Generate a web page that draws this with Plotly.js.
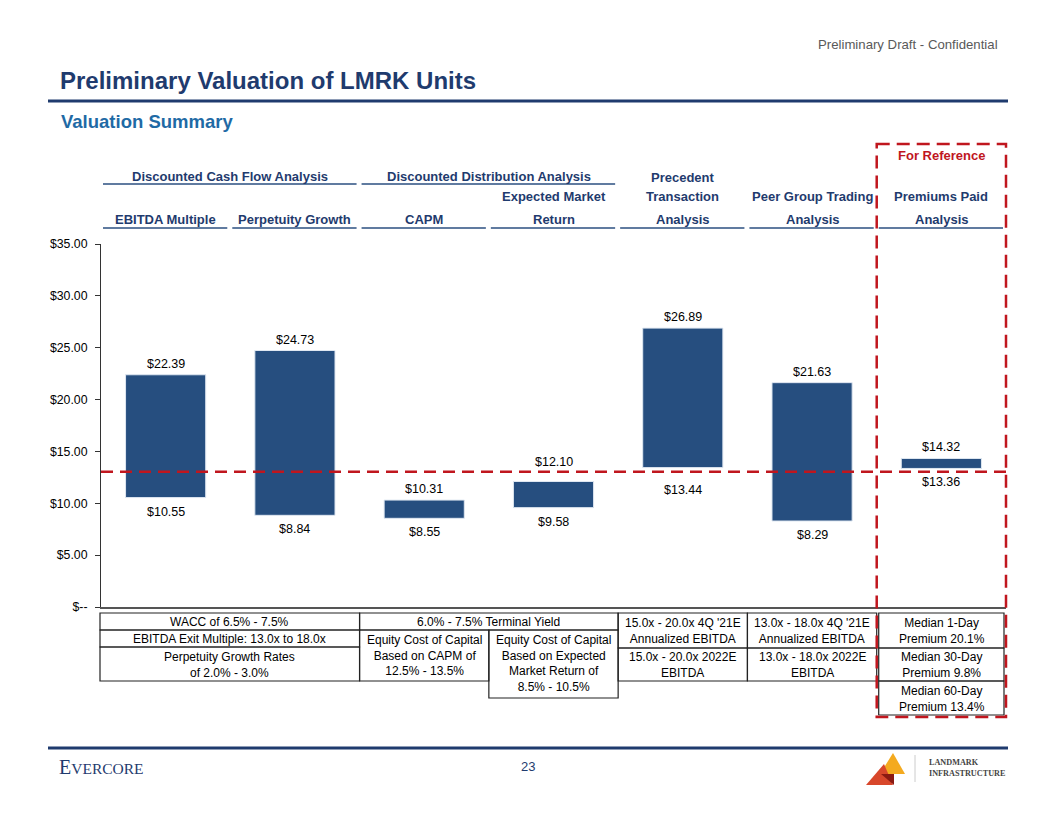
<!DOCTYPE html>
<html>
<head>
<meta charset="utf-8">
<script src="https://cdn.plot.ly/plotly-3.0.1.min.js"></script>
<style>
  html, body { margin: 0; padding: 0; background: #ffffff; }
  #chart { width: 1056px; height: 816px; }
</style>
</head>
<body>
<div id="chart"></div>
<script>
// ---------------- DATA ----------------
const categories = [
  "EBITDA Multiple", "Perpetuity Growth", "CAPM", "Expected Market Return",
  "Precedent Transaction Analysis", "Peer Group Trading Analysis", "Premiums Paid Analysis"
];
const lowValues  = [10.55, 8.84, 8.55, 9.58, 13.44, 8.29, 13.36];
const highValues = [22.39, 24.73, 10.31, 12.10, 26.89, 21.63, 14.32];
const currentPrice = 13.04;

const yTickVals  = [0, 5, 10, 15, 20, 25, 30, 35];
const yTickText  = ["$--", "$5.00", "$10.00", "$15.00", "$20.00", "$25.00", "$30.00", "$35.00"];

// header labels (per category column), three rows
const headerRow1 = ["", "", "", "", "Precedent", "", ""];
const headerRow2 = ["", "", "", "Expected Market", "Transaction", "Peer Group Trading", "Premiums Paid"];
const headerRow3 = ["EBITDA Multiple", "Perpetuity Growth", "CAPM", "Return", "Analysis", "Analysis", "Analysis"];
const groupHeaders = ["Discounted Cash Flow Analysis", "Discounted Distribution Analysis"];

// assumption notes under the chart
const notesDCF = ["WACC of 6.5% - 7.5%", "EBITDA Exit Multiple: 13.0x to 18.0x", "Perpetuity Growth Rates<br>of 2.0% - 3.0%"];
const notesDDA = ["6.0% - 7.5% Terminal Yield", "Equity Cost of Capital<br>Based on CAPM of<br>12.5% - 13.5%",
                  "Equity Cost of Capital<br>Based on Expected<br>Market Return of<br>8.5% - 10.5%"];
const notesPrecedent = ["15.0x - 20.0x 4Q '21E<br>Annualized EBITDA", "15.0x - 20.0x 2022E<br>EBITDA"];
const notesPeer = ["13.0x - 18.0x 4Q '21E<br>Annualized EBITDA", "13.0x - 18.0x 2022E<br>EBITDA"];
const notesPremiums = ["Median 1-Day<br>Premium 20.1%", "Median 30-Day<br>Premium 9.8%", "Median 60-Day<br>Premium 13.4%"];

// ---------------- LAYOUT HELPERS ----------------
const W = 1056, H = 816;
const PL = 101, PR = 1006, PT = 244, PB = 607;
const YMAX = 35;
const px = x => (x - PL) / (PR - PL);
const py = y => (PB - y) / (PB - PT);
const colW = (PR - PL) / categories.length;
const colL = i => PL + i * colW;
const pxPerUnit = (PB - PT) / YMAX;

const NAVY = "#1F3B6E";
const BAR = "#264E7F";
const RED = "#C0161E";
const FONT = "Liberation Sans, Arial, sans-serif";
const SERIF = "Liberation Serif, DejaVu Serif, serif";

const fmt = v => "$" + v.toFixed(2);

const traces = [{
  type: "bar",
  x: categories,
  base: lowValues,
  y: highValues.map((h, i) => h - lowValues[i]),
  marker: { color: BAR, line: { color: "#dfe7f1", width: 1 } },
  hoverinfo: "skip",
  showlegend: false
}];

const annotations = [];
const shapes = [];

// data labels (moved away from the reference line when they would touch it)
const LABEL_ABOVE = 12, LABEL_BELOW = 13.5, CLEAR = 9.6, EXTRA = 8.5;
categories.forEach((c, i) => {
  const hiGap = Math.abs((highValues[i] - currentPrice) * pxPerUnit + LABEL_ABOVE);
  const loGap = Math.abs((currentPrice - lowValues[i]) * pxPerUnit + LABEL_BELOW);
  annotations.push({ x: c, y: highValues[i], xref: "x", yref: "y", text: fmt(highValues[i]),
    showarrow: false, yanchor: "bottom", yshift: 2 + (hiGap < CLEAR ? EXTRA : 0),
    font: { family: FONT, size: 12.5, color: "#000" } });
  annotations.push({ x: c, y: lowValues[i], xref: "x", yref: "y", text: fmt(lowValues[i]),
    showarrow: false, yanchor: "top", yshift: -5 - (loGap < CLEAR ? EXTRA : 0),
    font: { family: FONT, size: 12.5, color: "#000" } });
});

// current price line
shapes.push({ type: "line", xref: "paper", yref: "y", x0: 0, x1: 1, y0: currentPrice, y1: currentPrice,
  line: { color: RED, width: 2.5, dash: "12px,7px" }, layer: "above" });

// page chrome
function addText(text, x, y, opts) {
  annotations.push(Object.assign({ text, xref: "paper", yref: "paper", x: px(x), y: py(y),
    showarrow: false, xanchor: "center", yanchor: "middle",
    font: { family: FONT, size: 12, color: "#000" } }, opts || {}));
}
function addLine(x0, y0, x1, y1, color, width, dash) {
  shapes.push({ type: "line", xref: "paper", yref: "paper", x0: px(x0), x1: px(x1), y0: py(y0), y1: py(y1),
    line: { color, width, dash: dash || "solid" } });
}
function addRect(x0, y0, x1, y1, color, width, dash) {
  shapes.push({ type: "rect", xref: "paper", yref: "paper", x0: px(x0), x1: px(x1), y0: py(y0), y1: py(y1),
    line: { color, width, dash: dash || "solid" }, fillcolor: "rgba(0,0,0,0)" });
}

addText("Preliminary Draft - Confidential", 1000, 44, { xanchor: "right", font: { family: FONT, size: 13.2, color: "#595959" } });
addText("<b>Preliminary Valuation of LMRK Units</b>", 58, 80, { xanchor: "left", font: { family: FONT, size: 24, color: NAVY } });
addLine(48, 101, 1008, 101, NAVY, 3);
addText("<b>Valuation Summary</b>", 59, 122, { xanchor: "left", font: { family: FONT, size: 18.5, color: "#1F6AA5" } });

// headers
const hFont = { family: FONT, size: 13, color: NAVY };
addText("<b>" + groupHeaders[0] + "</b>", (colL(0) + colL(2)) / 2, 176, { font: hFont });
addText("<b>" + groupHeaders[1] + "</b>", (colL(2) + colL(4)) / 2, 176, { font: hFont });
addLine(colL(0) + 2, 184, colL(2) - 3, 184, "#2B4F80", 1.5);
addLine(colL(2) + 2, 184, colL(4) - 3, 184, "#2B4F80", 1.5);
categories.forEach((c, i) => {
  const cx = colL(i) + colW / 2;
  if (headerRow1[i]) addText("<b>" + headerRow1[i] + "</b>", cx, 177, { font: hFont });
  if (headerRow2[i]) addText("<b>" + headerRow2[i] + "</b>", cx, 197, { font: hFont });
  addText("<b>" + headerRow3[i] + "</b>", cx, 219, { font: hFont });
  addLine(colL(i) + 2, 228, colL(i + 1) - 3, 228, "#2B4F80", 1.5);
});
addText("<b>For Reference</b>", colL(6) + colW / 2, 155, { font: { family: FONT, size: 13, color: RED } });

// notes table
const TB = "#222";
const c0 = PL - 1, c2 = colL(2), c3 = colL(3), c4 = colL(4), c5 = colL(5), c6 = colL(6), c7 = PR + 1;
[[c0, c2, 613, 630], [c0, c2, 630, 647], [c0, c2, 647, 681],
 [c2, c4, 613, 630], [c2, c3, 630, 681], [c3, c4, 630, 698],
 [c4, c5, 613, 648], [c4, c5, 648, 681],
 [c5, c6, 613, 648], [c5, c6, 648, 681],
 [c6 + 2, c7 - 3, 613, 648], [c6 + 2, c7 - 3, 648, 681], [c6 + 2, c7 - 3, 681, 715]
].forEach(r => addRect(r[0], r[2], r[1], r[3], TB, 1.2));

const nFont = { family: FONT, size: 12, color: "#000" };
addText(notesDCF[0], (c0 + c2) / 2, 622, { font: nFont });
addText(notesDCF[1], (c0 + c2) / 2, 639, { font: nFont });
addText(notesDCF[2], (c0 + c2) / 2, 664.5, { font: nFont });
addText(notesDDA[0], (c2 + c4) / 2, 622, { font: nFont });
addText(notesDDA[1], (c2 + c3) / 2, 631, { font: nFont, yanchor: "top" });
addText(notesDDA[2], (c3 + c4) / 2, 631, { font: nFont, yanchor: "top" });
addText(notesPrecedent[0], (c4 + c5) / 2, 631, { font: nFont });
addText(notesPrecedent[1], (c4 + c5) / 2, 665, { font: nFont });
addText(notesPeer[0], (c5 + c6) / 2, 631, { font: nFont });
addText(notesPeer[1], (c5 + c6) / 2, 665, { font: nFont });
addText(notesPremiums[0], (c6 + c7) / 2, 631, { font: nFont });
addText(notesPremiums[1], (c6 + c7) / 2, 665, { font: nFont });
addText(notesPremiums[2], (c6 + c7) / 2, 698.5, { font: nFont });

// red reference box
addRect(c6, 144, PR, 717, RED, 2.5, "13px,7px");

// footer
addLine(48, 748, 1008, 748, NAVY, 3);
addText('<span style="font-size:20px">E</span>VERCORE', 57, 767, { xanchor: "left",
  font: { family: SERIF, size: 15.5, color: NAVY } });
addText("23", 528, 766, { font: { family: FONT, size: 13, color: NAVY } });
const tri = pts => "M " + pts.map(p => px(p[0]) + "," + py(p[1])).join(" L ") + " Z";
shapes.push({ type: "path", xref: "paper", yref: "paper", path: tri([[893, 753], [905, 774], [880, 774]]), fillcolor: "#F4AA1F", line: { width: 0 } });
shapes.push({ type: "path", xref: "paper", yref: "paper", path: tri([[884, 764], [893, 785], [866, 785]]), fillcolor: "#D8472B", line: { width: 0 } });
shapes.push({ type: "path", xref: "paper", yref: "paper", path: tri([[881, 774], [894, 774], [894, 785]]), fillcolor: "#8B1A12", line: { width: 0 } });
addLine(915, 755, 915, 782, "#cccccc", 1);
addText("<b>LANDMARK</b>", 927, 762, { xanchor: "left", font: { family: SERIF, size: 8.2, color: "#444" } });
addText("<b>INFRASTRUCTURE</b>", 927, 773, { xanchor: "left", font: { family: SERIF, size: 8.2, color: "#444" } });

const layout = {
  width: W, height: H,
  margin: { l: PL, r: W - PR, t: PT, b: H - PB, pad: 0 },
  paper_bgcolor: "#fff", plot_bgcolor: "#fff",
  bargap: 0.38,
  showlegend: false,
  xaxis: {
    type: "category", range: [-0.5, categories.length - 0.5], showticklabels: false,
    showgrid: false, zeroline: false, showline: true, linecolor: "#555", linewidth: 2, ticks: "", fixedrange: true
  },
  yaxis: {
    range: [0, YMAX], tickvals: yTickVals, ticktext: yTickText, showgrid: false, zeroline: false,
    showline: true, linecolor: "#333", linewidth: 1, ticks: "outside", ticklen: 5, tickcolor: "#333",
    ticklabelstandoff: 5,
    tickfont: { family: FONT, size: 12.3, color: "#000" }, fixedrange: true
  },
  shapes, annotations
};

Plotly.newPlot("chart", traces, layout, { staticPlot: true, displayModeBar: false });
</script>
</body>
</html>
